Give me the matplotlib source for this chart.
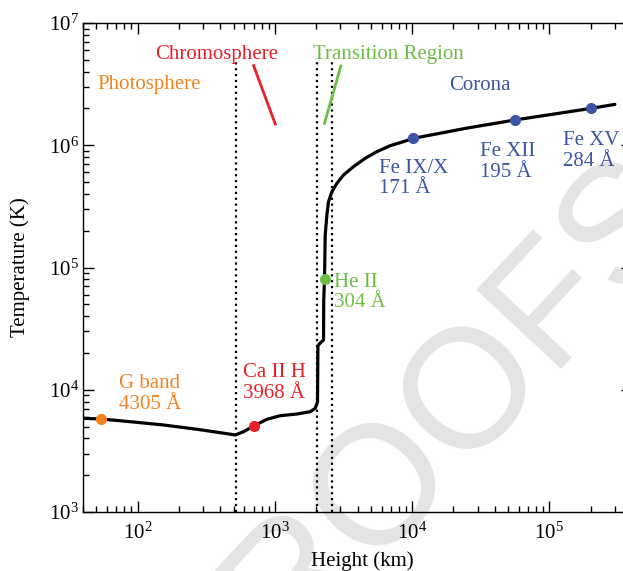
import matplotlib
matplotlib.use("Agg")
import matplotlib.pyplot as plt

plt.rcParams['font.family'] = ['Liberation Serif', 'DejaVu Serif']
plt.rcParams['mathtext.fontset'] = 'stix'

# ---- data ----
height_km = [40.3, 54.1, 88.5, 154.6, 270.7, 400, 514, 591, 708, 875.6, 1094, 1448,
             1809, 1968, 2045, 2059, 2122, 2263, 2270, 2300,
             2327, 2394, 2459, 2604, 2831, 3162, 3740, 4550, 5537, 6920, 8650,
             10230, 25000, 56200, 2.0e5, 3.0e5]
temp_K = [5840, 5765, 5478, 5149, 4748, 4455, 4265, 4539, 5082, 5733, 6135, 6333,
          6613, 7052, 7983, 22800, 23900, 25530, 5.42e4, 8.01e4,
          1.845e5, 2.69e5, 3.45e5, 4.17e5, 4.88e5, 5.71e5, 6.68e5, 7.82e5, 8.86e5, 9.92e5, 1.07e6,
          1.14e6, 1.38e6, 1.61e6, 2.0e6, 2.16e6]

line_names = ["G band\n4305 Å", "Ca II H\n3968 Å", "He II\n304 Å",
              "Fe IX/X\n171 Å", "Fe XII\n195 Å", "Fe XV\n284 Å"]
line_height = [54.1, 708, 2300, 10230, 56200, 2.0e5]
line_temp = [5765, 5082, 8.01e4, 1.14e6, 1.61e6, 2.0e6]

boundaries_km = [523, 2024, 2595]

regions = ["Photosphere", "Chromosphere", "Transition Region", "Corona"]

ORANGE = '#F5821F'
RED = '#E8202A'
GREEN = '#6BBE45'
BLUE = '#3A55A4'
line_colors = [ORANGE, RED, GREEN, BLUE, BLUE, BLUE]
region_colors = [ORANGE, RED, GREEN, BLUE]

fig = plt.figure(figsize=(6.23, 5.71), dpi=100)
ax = fig.add_axes([83/623, 59/571, 549/623, 489/571])
ax.patch.set_alpha(0)

# watermark
fig.text(0.674, 0.226, "PROOFS", family=['Liberation Sans'], fontsize=122,
         color='#e4e4e4', rotation=47, ha='center', va='center', zorder=-5)

ax.set_xscale('log')
ax.set_yscale('log')
ax.set_xlim(40, 4e5)
ax.set_ylim(1e3, 1e7)

for b in boundaries_km:
    ax.plot([b, b], [1e3, 4.89e6], color='black', linestyle=':', lw=1.6, zorder=2)

ax.plot(height_km, temp_K, color='black', lw=2.3, zorder=3,
        solid_joinstyle='round', solid_capstyle='round')

for h, t, c in zip(line_height, line_temp, line_colors):
    ax.plot([h], [t], 'o', color=c, ms=8, zorder=4, mec='none')

fs = 15
sh = 0.954
label_pos = [(72.7, 9.64e3), (582, 1.19e4), (2718, 6.55e4),
             (5785, 5.62e5), (31300, 7.69e5), (125000, 9.44e5)]
for (x, y), c, name in zip(label_pos, line_colors, line_names):
    ax.text(x, y * sh, name, color=c, fontsize=fs, ha='left', va='center',
            linespacing=1.12)

region_pos = [(122, 3.31e6), (378, 5.83e6), (6745, 5.83e6), (31000, 3.21e6)]
for (x, y), c, name in zip(region_pos, region_colors, regions):
    ax.text(x, y * sh, name, color=c, fontsize=fs, ha='center', va='center')

# slanted marker lines
ax.plot([700, 1007], [4.48e6, 1.49e6], color=RED, lw=2)
ax.plot([3027, 2300], [4.45e6, 1.51e6], color=GREEN, lw=2)

ax.tick_params(which='both', direction='in', top=True, right=True, width=1,
               labelsize=fs)
ax.tick_params(which='major', length=8)
ax.tick_params(which='minor', length=4)
ax.tick_params(axis='y', which='both', pad=3)
ax.tick_params(axis='x', which='both', pad=7.5)
for s in ax.spines.values():
    s.set_linewidth(1.0)

ax.set_xlabel("Height (km)", fontsize=fs)
ax.set_ylabel("Temperature (K)", fontsize=fs)
ax.xaxis.set_label_coords(0.508, -0.08)
ax.yaxis.set_label_coords(-0.097, 0.5)

fig.savefig("out.png", dpi=100)
